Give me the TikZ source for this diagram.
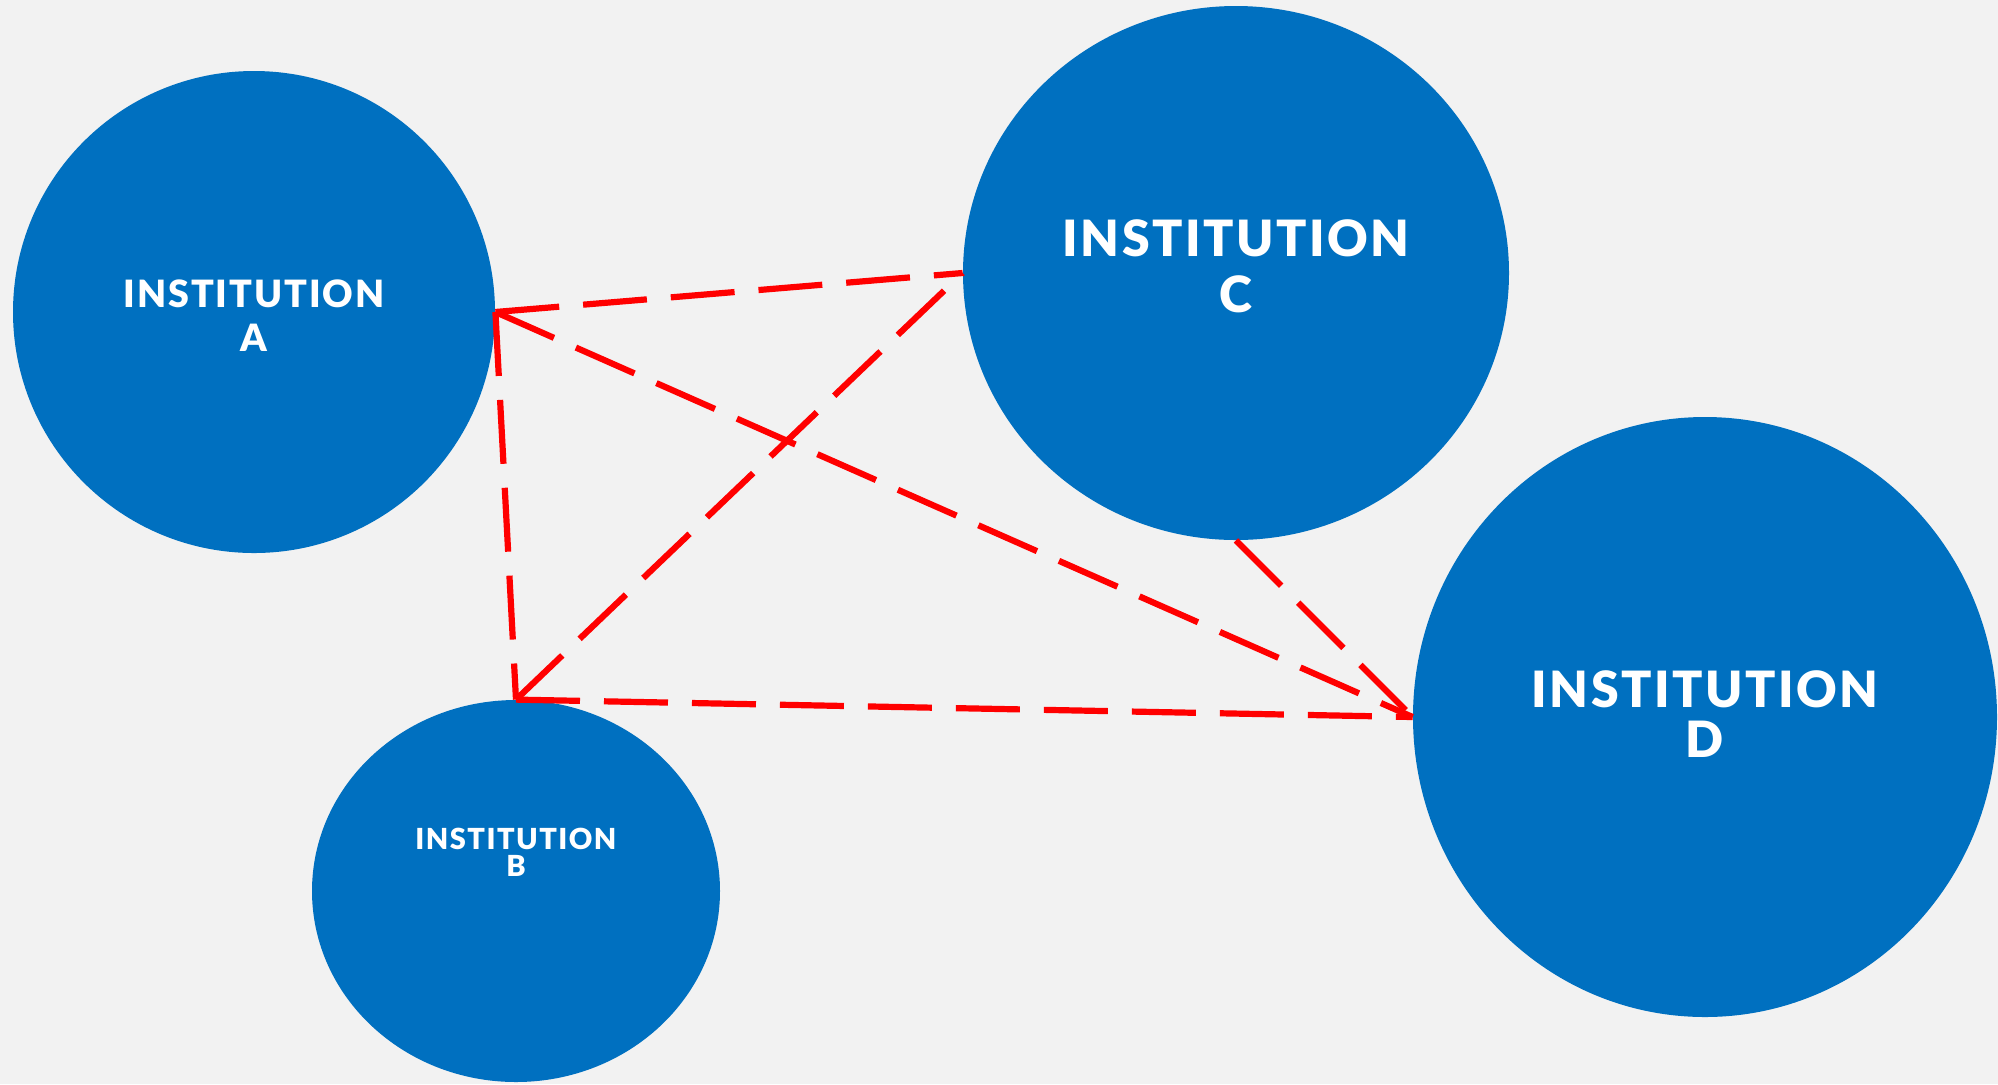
\documentclass[tikz,border=0pt]{standalone}
\usepackage{fontspec}
\setmainfont{Lato}
\newfontfamily\labelfont[LetterSpace=5]{Lato Black}
\usetikzlibrary{shapes.geometric}
\definecolor{bgGrey}{HTML}{F2F2F2}
\definecolor{instBlue}{HTML}{0070C0}
\definecolor{linkRed}{HTML}{FF0000}
\begin{document}
\begin{tikzpicture}[x=0.5pt,y=-0.5pt,
  inst/.style={ellipse,fill=instBlue,draw=none,inner sep=0pt},
  instlabel/.style={text=white,align=center,font=\labelfont,inner sep=0pt},
  link/.style={draw=linkRed,line width=3.1pt,dash pattern=on 32pt off 12pt}]
  \fill[bgGrey] (0,0) rectangle (1998,1084);
  \useasboundingbox (0,0) rectangle (1998,1084);

  % institutions
  \node[inst,minimum width=482*0.5pt,minimum height=482*0.5pt] (A) at (254,312) {};
  \node[inst,minimum width=546*0.5pt,minimum height=534*0.5pt] (C) at (1236,273) {};
  \node[inst,minimum width=584*0.5pt,minimum height=600*0.5pt] (D) at (1705,717) {};
  \node[inst,minimum width=408*0.5pt,minimum height=382*0.5pt] (B) at (516,891) {};

  % labels
  \node[instlabel,font=\labelfont\fontsize{18.8}{22}\selectfont] (Alab) at (254,316) {INSTITUTION\\A};
  \node[instlabel,font=\labelfont\fontsize{25}{28}\selectfont] (Clab) at (1236,266) {INSTITUTION\\C};
  \node[instlabel,font=\labelfont\fontsize{25}{25}\selectfont] (Dlab) at (1705,714) {INSTITUTION\\D};
  \node[instlabel,font=\labelfont\fontsize{14.5}{13.5}\selectfont] (Blab) at (516,852) {INSTITUTION\\B};

  % dashed links between institutions
  \draw[link] (A.east) -- (C.west);
  \draw[link] (A.east) -- (D.west);
  \draw[link] (A.east) -- (B.north);
  \draw[link] (B.north) -- (C.west);
  \draw[link] (B.north) -- (D.west);
  \draw[link] (C.south) -- (D.west);
\end{tikzpicture}
\end{document}
